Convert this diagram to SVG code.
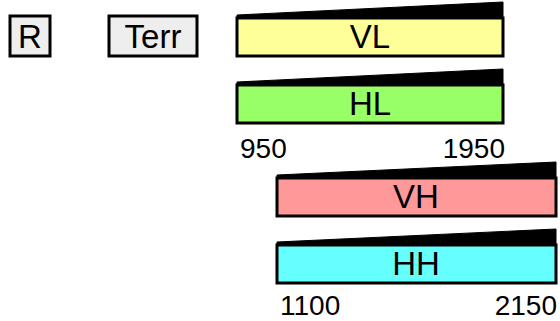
<svg xmlns="http://www.w3.org/2000/svg" width="560" height="321" viewBox="0 0 560 321">
<style>
.box{fill:#eeeeee;stroke:#000;stroke-width:3}
.bar{stroke:#000;stroke-width:3}
.wedge{fill:#000;stroke:#000;stroke-width:1;stroke-linejoin:round}
text{font-family:"Liberation Sans",Arial,sans-serif;fill:#000}
.lbl{font-size:33px;text-anchor:middle}
.num{font-size:28px}
</style>
<g id="R"><rect class="box" x="10" y="16" width="40" height="40"/><text class="lbl" x="30" y="48">R</text></g>
<g id="Terr"><rect class="box" x="109" y="16" width="88" height="40"/><text class="lbl" x="153" y="48">Terr</text></g>
<g id="VL"><polygon class="wedge" points="237,15 503,2 503,18 237,18"/><rect class="bar" x="237" y="18" width="266" height="38" fill="#ffff99"/><text class="lbl" x="370" y="48">VL</text></g>
<g id="HL"><polygon class="wedge" points="237,82 503,69 503,85 237,85"/><rect class="bar" x="237" y="85" width="266" height="38" fill="#99ff66"/><text class="lbl" x="370" y="115">HL</text></g>
<g id="VH"><polygon class="wedge" points="277,175 556,162 556,178 277,178"/><rect class="bar" x="277" y="178" width="279" height="38" fill="#ff9999"/><text class="lbl" x="416" y="208">VH</text></g>
<g id="HH"><polygon class="wedge" points="277,242 556,229 556,245 277,245"/><rect class="bar" x="277" y="245" width="279" height="38" fill="#66ffff"/><text class="lbl" x="416" y="275">HH</text></g>
<g id="scale-low"><text class="num" x="240" y="158">950</text><text class="num" x="505" y="158" text-anchor="end">1950</text></g>
<g id="scale-high"><text class="num" x="280" y="315">1100</text><text class="num" x="557" y="315" text-anchor="end">2150</text></g>
<g id="connectors"/>
</svg>
